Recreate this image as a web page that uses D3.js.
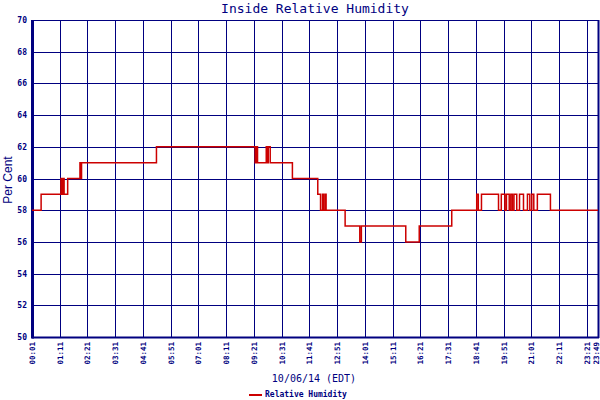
<!doctype html>
<html>
<head>
    <meta charset="UTF-8">
    <title>Inside Relative Humidity</title>
    <script src="https://d3js.org/d3.v7.min.js"></script>
    <style>
        body{ margin:0; background:#fff; }
    </style>
</head>
<body>
   <script>
       // readings, 10/06/14
       var times = ["00:01","00:24","01:14","01:17","01:19","01:22","01:31","02:02","02:04","02:06",
                    "05:15","09:24","09:27","09:30","09:52","09:55","09:57","10:02","10:58","12:02",
                    "12:09","12:14","12:16","12:20","12:23","13:11","13:48","13:52","15:44","16:18",
                    "17:40","18:43","18:47","18:55","19:38","19:45","19:54","19:58","20:05","20:09",
                    "20:13","20:17","20:24","20:31","20:41","20:51","20:57","21:02","21:07","21:16",
                    "21:49","23:49"];
       var humidity = [58,59,60,59,60,59,60,61,60,61,
                       62,61,62,61,62,61,62,61,60,59,
                       58,59,58,59,58,57,56,57,56,57,
                       58,59,58,59,58,59,58,59,58,59,
                       58,59,58,59,58,59,58,59,58,59,
                       58,58];
       var xTicks = ["00:01","01:11","02:21","03:31","04:41","05:51","07:01","08:11","09:21","10:31",
                     "11:41","12:51","14:01","15:11","16:21","17:31","18:41","19:51","21:01","22:11",
                     "23:21","23:49"];
       var yTicks = [50,52,54,56,58,60,62,64,66,68,70];

       var navy = "#000080", red = "#cc0000";
       var mins = function(s){ var p = s.split(":"); return +p[0]*60 + +p[1]; };

       var svg = d3.select("body").append("svg")
            .attr("width", 600).attr("height", 400);

       // plot box (note: "top" is taken by window.top)
       var pL = 32, pR = 598, pT = 20, pB = 337;
       var x = d3.scaleLinear().domain([mins("00:01"), mins("23:49")]).range([pL, pR]);
       var y = d3.scaleLinear().domain([50, 70]).range([pB, pT]);

       // grid
       svg.selectAll(".hg").data(yTicks).enter().append("line")
            .attr("x1", pL).attr("x2", pR)
            .attr("y1", function(d){ return Math.round(y(d)) + 0.5; })
            .attr("y2", function(d){ return Math.round(y(d)) + 0.5; })
            .attr("stroke", navy).attr("stroke-width", 1);
       svg.selectAll(".vg").data(xTicks).enter().append("line")
            .attr("x1", function(d){ return Math.round(x(mins(d))) + 0.5; })
            .attr("x2", function(d){ return Math.round(x(mins(d))) + 0.5; })
            .attr("y1", pT).attr("y2", pB)
            .attr("stroke", navy).attr("stroke-width", 1);

       // heavier frame edges
       svg.append("line").attr("x1", pL + 0.5).attr("x2", pL + 0.5)
            .attr("y1", pT).attr("y2", pB + 1.5)
            .attr("stroke", navy).attr("stroke-width", 3);
       svg.append("line").attr("x1", pL).attr("x2", pR + 1)
            .attr("y1", pB + 0.5).attr("y2", pB + 0.5)
            .attr("stroke", navy).attr("stroke-width", 2);
       svg.append("line").attr("x1", pR + 0.5).attr("x2", pR + 0.5)
            .attr("y1", pT).attr("y2", pB + 1)
            .attr("stroke", navy).attr("stroke-width", 2);

       // y labels
       svg.selectAll(".yl").data(yTicks).enter().append("text")
            .attr("x", 27).attr("y", function(d){ return y(d) + 3; })
            .attr("text-anchor", "end")
            .attr("fill", navy)
            .style("font", "bold 8px 'DejaVu Sans Mono'")
            .text(function(d){ return d; });

       // x labels
       svg.selectAll(".xl").data(xTicks).enter().append("text")
            .attr("transform", function(d){ return "translate(" + Math.min(x(mins(d)) + 3, 599) + ",342) rotate(-90)"; })
            .attr("text-anchor", "end")
            .attr("fill", navy)
            .style("font", "bold 7.5px 'DejaVu Sans Mono'")
            .text(function(d){ return d; });

       // the reading
       var pts = times.map(function(t, i){ return [mins(t), humidity[i]]; });
       var line = d3.line()
            .x(function(d){ return x(d[0]); })
            .y(function(d){ return y(d[1]); })
            .curve(d3.curveStepAfter);
       svg.append("path").datum(pts)
            .attr("d", line)
            .attr("fill", "none")
            .attr("stroke", red)
            .attr("stroke-width", 1.5);

       // titles
       svg.append("text").attr("x", 315).attr("y", 13)
            .attr("text-anchor", "middle").attr("fill", navy)
            .style("font", "13px 'DejaVu Sans Mono'")
            .text("Inside Relative Humidity");
       svg.append("text").attr("x", 314).attr("y", 382)
            .attr("text-anchor", "middle").attr("fill", navy)
            .style("font", "10px 'DejaVu Sans Mono'")
            .text("10/06/14 (EDT)");
       svg.append("text")
            .attr("transform", "translate(12,180) rotate(-90)")
            .attr("text-anchor", "middle").attr("fill", navy)
            .style("font", "12px 'Liberation Sans'")
            .text("Per Cent");

       // legend
       svg.append("line").attr("x1", 249).attr("x2", 262)
            .attr("y1", 395).attr("y2", 395)
            .attr("stroke", red).attr("stroke-width", 2);
       svg.append("text").attr("x", 265).attr("y", 397)
            .attr("fill", navy)
            .style("font", "bold 8px 'DejaVu Sans Mono'")
            .text("Relative Humidity");
   </script>
</body>
</html>
